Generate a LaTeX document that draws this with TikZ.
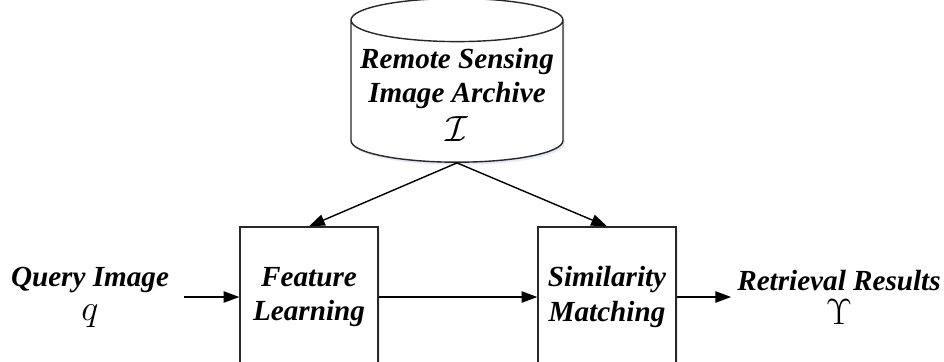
\documentclass[tikz,border=0pt]{standalone}
\usepackage{fontspec}
\setmainfont{Liberation Serif}
\usepackage{tikz}
\usetikzlibrary{shapes.geometric,arrows.meta,shadows}
\definecolor{edge}{RGB}{40,40,40}
\definecolor{glow}{RGB}{175,195,228}
\newcommand{\bigsym}[1]{{\fontsize{22}{19.4}\selectfont$#1$}}
\tikzset{
  lbl/.style={align=center, font=\bfseries\itshape\fontsize{16.6}{19.4}\selectfont},
  blk/.style={draw=edge, line width=0.8pt, fill=white, minimum width=2.76cm, minimum height=2.8cm, inner sep=0pt,
    drop shadow={shadow xshift=1pt, shadow yshift=-1.5pt, fill=glow, opacity=0.35}},
  flow/.style={line width=0.8pt, -{Triangle[length=9pt,width=6.5pt]}}
}
\begin{document}
\begin{tikzpicture}[x=0.02cm, y=-0.02cm]
\useasboundingbox (0,0) rectangle (944,362);
\clip (0,0) rectangle (944,362);

% archive on top
\node [cylinder, shape border rotate=90, aspect=0.21, draw=edge, line width=0.8pt, fill=white,
  minimum width=4.24cm, minimum height=3.2cm, lbl,
  drop shadow={shadow xshift=1pt, shadow yshift=-1.5pt, fill=glow, opacity=0.35}] (archive) at (457,95)
  {Remote Sensing\\Image Archive\\[3pt]\bigsym{\mathcal{I}}};

% processing blocks
\node [blk, lbl] (feat) at (309,297) {Feature\\Learning};
\node [blk, lbl] (simi) at (607,297) {Similarity\\Matching};

% input and output
\node [lbl] (query) at (90,297) {Query Image\\\bigsym{q}};
\node [lbl] (result) at (839,297) {Retrieval Results\\\bigsym{\Upsilon}};

\draw [flow, shorten <=5pt] (query) -- (feat);
\draw [flow] (feat) -- (simi);
\draw [flow] (simi) -- (result);
\draw [flow] (archive.south) -- (feat.north);
\draw [flow] (archive.south) -- (simi.north);
\end{tikzpicture}
\end{document}
